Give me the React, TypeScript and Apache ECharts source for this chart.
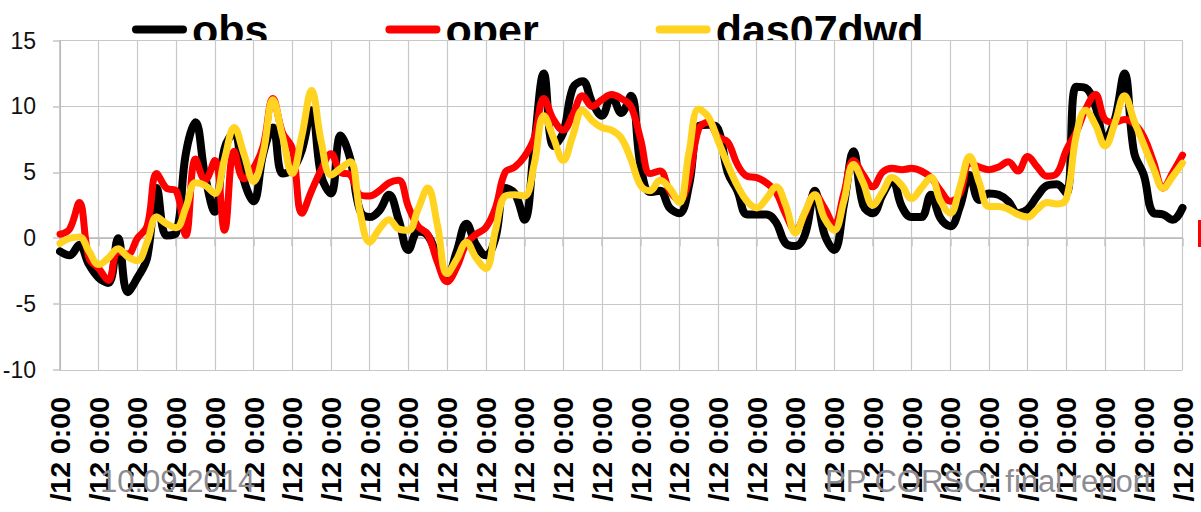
import React, { useEffect, useRef } from "react";
import * as echarts from "echarts";

// One label per day; the series are sampled every 6 hours.
const DAYS = [
  "2/1/12", "2/2/12", "2/3/12", "2/4/12", "2/5/12", "2/6/12", "2/7/12", "2/8/12",
  "2/9/12", "2/10/12", "2/11/12", "2/12/12", "2/13/12", "2/14/12", "2/15/12",
  "2/16/12", "2/17/12", "2/18/12", "2/19/12", "2/20/12", "2/21/12", "2/22/12",
  "2/23/12", "2/24/12", "2/25/12", "2/26/12", "2/27/12", "2/28/12", "2/29/12", "3/1/12",
];
const HOURS = ["0:00", "6:00", "12:00", "18:00"];

const SERIES_NAMES = ["obs", "oper", "das07dwd"];

const OBS = [
  -1.0, -1.3, -0.5, -2.0,
  -3.0, -3.4, 0.0, -4.1,
  -3.0, -1.5, 3.8, 0.2,
  0.4, 6.4, 8.8, 4.7,
  2.0, 6.8, 8.0, 4.4,
  2.8, 6.4, 8.4, 4.9,
  5.2, 6.7, 9.7, 4.7,
  3.4, 7.8, 6.0, 2.1,
  1.6, 2.1, 3.3, 1.4,
  -0.9, 0.5, 0.2, -1.4,
  -2.9, -1.0, 1.1, -0.5,
  -1.3, 0.0, 3.8, 3.4,
  1.4, 7.0, 12.5, 7.0,
  8.0, 11.4, 11.9, 10.3,
  9.3, 10.8, 9.5, 10.8,
  5.5, 3.5, 3.6, 2.3,
  1.9, 4.0, 8.5, 8.6,
  8.3, 5.0, 3.6, 1.8,
  1.8, 1.8, 1.2, -0.4,
  -0.6, 0.3, 3.6, 0.3,
  -0.9, 2.5, 6.6, 2.5,
  1.9, 3.3, 4.4, 2.4,
  1.6, 1.6, 3.3, 1.5,
  0.9, 2.4, 4.8, 2.9,
  3.4, 3.3, 2.8, 1.9,
  2.2, 3.2, 4.0, 4.1,
  3.4, 11.5, 11.4, 10.0,
  7.5, 9.0, 12.5, 6.5,
  4.8, 1.9, 1.8, 1.4,
  2.3,
];

const OPER = [
  0.3, 0.7, 2.7, -1.5,
  -2.3, -3.2, -1.0, -1.2,
  0.0, 0.9, 4.9, 3.8,
  3.6, 0.2, 6.0, 4.4,
  5.9, 0.6, 6.6, 4.5,
  5.3, 7.0, 10.6, 8.0,
  6.8, 1.9, 3.6, 5.2,
  6.4, 5.0, 4.8, 3.3,
  3.2, 3.6, 4.2, 4.4,
  2.4, 0.9, 0.3, -1.8,
  -3.3, -2.2, -0.4, 0.3,
  0.8, 2.3, 5.0, 5.4,
  6.2, 7.6, 10.6, 9.0,
  8.2, 9.4, 10.8, 10.0,
  10.5, 10.9, 10.6, 10.0,
  7.5, 4.9, 5.1, 3.6,
  2.9, 4.5, 8.3, 8.8,
  7.7, 7.3, 5.6, 4.7,
  4.6, 4.2, 3.5, 1.8,
  0.6, 1.9, 3.3, 2.3,
  1.0, 3.4, 5.9, 4.8,
  3.9, 5.0, 5.3, 5.2,
  5.3, 5.1, 4.6, 3.6,
  2.8, 3.4, 5.7, 5.4,
  5.2, 5.4, 5.8, 5.1,
  6.2, 5.4, 4.7, 4.9,
  6.7, 8.0, 9.8, 10.9,
  9.0, 8.8, 9.0, 8.7,
  7.7, 5.8, 3.8, 5.0,
  6.3,
];

const DAS07DWD = [
  -0.4, 0.0, 0.1, -1.0,
  -2.0, -1.5, -0.8, -1.4,
  -1.7, -0.3, 1.6, 1.1,
  0.8, 2.3, 4.2, 4.0,
  3.4, 6.0, 8.4, 6.4,
  4.3, 6.5, 10.5, 7.7,
  4.9, 7.8, 11.2, 7.3,
  4.8, 5.3, 5.8, 2.0,
  -0.3, 0.7, 1.4, 0.7,
  0.6, 2.2, 3.8, 1.0,
  -2.7, -1.6, -0.3, -1.5,
  -2.3, 0.6, 3.2, 3.3,
  3.2, 5.6, 9.3, 7.6,
  5.9, 7.8, 9.7, 8.9,
  8.4, 8.2, 7.6, 6.0,
  4.0, 3.6, 4.4, 3.8,
  2.7, 6.5, 9.8, 9.2,
  7.4, 5.6, 4.0, 2.8,
  2.3, 3.0, 3.9, 2.5,
  0.4, 2.0, 3.3, 1.5,
  0.6, 2.8, 5.6, 4.2,
  2.5, 3.5, 4.6, 4.0,
  3.0, 3.8, 4.6, 2.8,
  1.9, 3.9, 6.2, 4.2,
  2.4, 2.4, 2.2, 1.8,
  1.6, 2.2, 2.7, 2.6,
  3.0, 7.7, 9.7, 8.6,
  7.0, 8.7, 10.8, 8.9,
  7.1, 5.3, 3.8, 4.7,
  5.7,
];

const Y_MIN = -10;
const Y_MAX = 15;
const Y_STEP = 5;

const FOOTER_LEFT = "10.09.2014";
const FOOTER_RIGHT = "PP CORSO: final report";

const FONT = "'Liberation Sans', Arial, Helvetica, sans-serif";

const COLORS = ["#000000", "#ff0000", "#ffd320"];
const WIDTHS = [8, 7, 7];

const categories: string[] = DAYS.flatMap((d, i) =>
  i === DAYS.length - 1 ? [`${d} 0:00`] : HOURS.map((h) => `${d} ${h}`)
);

// Tick labels show the year/time tail of each day stamp, e.g. "/12 0:00".
const tickLabel = (v: string) => v.slice(v.lastIndexOf("/"));

const PILL = "path://M4,0 L51,0 A4,4 0 0 1 51,8 L4,8 A4,4 0 0 1 4,0 Z";

export default function App() {
  const ref = useRef<HTMLDivElement>(null);

  useEffect(() => {
    if (!ref.current) return;
    const chart = echarts.init(ref.current, undefined, { renderer: "svg" });
    const values = [OBS, OPER, DAS07DWD];

    chart.setOption({
      animation: false,
      backgroundColor: "#ffffff",
      legend: {
        z: 0,
        left: 127,
        top: 3,
        itemWidth: 55,
        itemHeight: 8,
        itemGap: 117,
        icon: PILL,
        data: SERIES_NAMES,
        textStyle: {
          fontFamily: FONT,
          fontSize: 43,
          fontWeight: "bold",
          color: "#000",
          lineHeight: 43,
        },
      },
      grid: {
        show: true,
        z: 1,
        backgroundColor: "#ffffff",
        borderWidth: 0,
        left: 60,
        top: 40.5,
        width: 1122.5,
        height: 329.5,
        containLabel: false,
        outerBoundsMode: "none",
      },
      xAxis: {
        type: "category",
        z: 2,
        data: categories,
        boundaryGap: false,
        axisLine: { show: true, lineStyle: { color: "#b8b8b8", width: 1.5 } },
        axisTick: {
          show: true,
          interval: 3,
          length: 8,
          lineStyle: { color: "#c4c4c4", width: 1.5 },
        },
        splitLine: {
          show: true,
          interval: 3,
          lineStyle: { color: "#c8c8c8", width: 1.2 },
        },
        axisLabel: {
          interval: 3,
          rotate: 90,
          margin: 27,
          hideOverlap: false,
          formatter: tickLabel,
          fontFamily: FONT,
          fontSize: 28.5,
          fontWeight: "bold",
          color: "#000",
        },
      },
      yAxis: {
        type: "value",
        z: 2,
        min: Y_MIN,
        max: Y_MAX,
        interval: Y_STEP,
        axisLine: { show: true, lineStyle: { color: "#b8b8b8", width: 1.5 } },
        axisTick: {
          show: true,
          length: 7,
          lineStyle: { color: "#c4c4c4", width: 1.5 },
        },
        splitLine: { show: true, lineStyle: { color: "#c8c8c8", width: 1.2 } },
        axisLabel: {
          margin: 24,
          fontFamily: FONT,
          fontSize: 23,
          color: "#111",
        },
      },
      series: SERIES_NAMES.map((name, i) => ({
        name,
        type: "line",
        z: 3 + i,
        data: values[i],
        smooth: 0.4,
        showSymbol: false,
        symbol: "none",
        color: COLORS[i],
        itemStyle: { color: COLORS[i] },
        lineStyle: {
          color: COLORS[i],
          width: WIDTHS[i],
          cap: "round",
          join: "round",
        },
      })),
      graphic: [
        {
          type: "text",
          z: 20,
          left: 100,
          top: 466,
          style: {
            text: FOOTER_LEFT,
            font: `31px ${FONT}`,
            fill: "#8c8c92",
          },
        },
        {
          type: "text",
          z: 20,
          left: 825,
          top: 466,
          style: {
            text: FOOTER_RIGHT,
            font: `31px ${FONT}`,
            fill: "#8c8c92",
          },
        },
        {
          type: "rect",
          z: 20,
          left: 1198,
          top: 220,
          shape: { width: 3, height: 27 },
          style: { fill: "#ff0000" },
        },
      ],
    });

    return () => chart.dispose();
  }, []);

  return (
    <div
      ref={ref}
      style={{ position: "absolute", left: 0, top: 0, width: 1201, height: 512 }}
    />
  );
}
